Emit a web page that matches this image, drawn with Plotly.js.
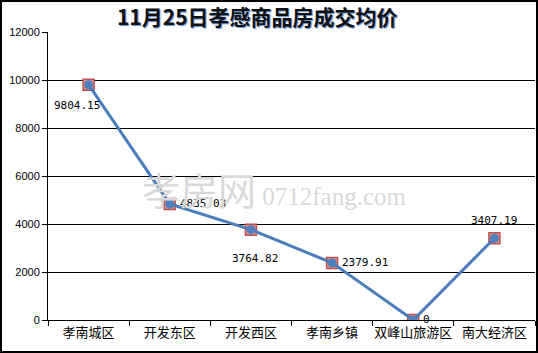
<!DOCTYPE html>
<html><head><meta charset="utf-8">
<script src="https://cdn.plot.ly/plotly-3.0.1.min.js"></script>
<style>
html,body{margin:0;padding:0;background:#fff;}
#wrap{width:534px;height:349px;border:2px solid #000;}
#chart{width:534px;height:349px;}
</style></head>
<body><div id="wrap"><div id="chart"></div></div>
<script>
const categories = ['孝南城区','开发东区','开发西区','孝南乡镇','双峰山旅游区','南大经济区'];
const values = [9804.15, 4835.03, 3764.82, 2379.91, 0, 3407.19];
const labels = ['9804.15','4835.03','3764.82','2379.91','0','3407.19'];
const yTicks = [0,2000,4000,6000,8000,10000,12000];

const labelShift = [[-12,-21],[33,0],[4,-29],[33,0],[13,1],[0,18]];

const traces = [
  {x: categories, y: values, type:'scatter', mode:'markers', hoverinfo:'skip',
   marker:{symbol:'square', size:11, color:'#d99694', line:{color:'#c0504d', width:1.5}}},
  {x: categories, y: values, type:'scatter', mode:'lines+markers',
   line:{color:'#4a7ebb', width:3},
   marker:{symbol:'circle', size:9, color:'#4f81bd'}}
];

const annotations = values.map((v,i)=>({
  x: categories[i], y: v, xref:'x', yref:'y', text: labels[i], showarrow:false,
  xshift: labelShift[i][0], yshift: labelShift[i][1],
  font:{family:'DejaVu Sans Mono, monospace', size:11, color:'#000'}
}));
annotations.push({
  xref:'paper', yref:'paper', x:0.465, y:0.455, showarrow:false,
  text:'<span style="font-size:38px;font-family:Noto Sans CJK SC">孝房网</span><span style="font-size:25px;font-family:Liberation Serif"> 0712fang.com</span>',
  font:{family:'Liberation Serif', color:'#d9d9d9'}
});

const layout = {
  width:534, height:349,
  margin:{l:46, r:1, t:30, b:31},
  paper_bgcolor:'#fff', plot_bgcolor:'#fff',
  showlegend:false,
  title:{text:'11月25日孝感商品房成交均价', x:0.478, xanchor:'center', y:0.975, yanchor:'top',
    font:{family:'Noto Sans CJK SC', size:21, color:'#111', weight:'bold', shadow:'1px 1px 1px #5b8fd0'}},
  xaxis:{type:'category', tickson:'boundaries', ticks:'outside', ticklen:5, tickcolor:'#000',
    showline:true, linecolor:'#000', linewidth:1, showgrid:false, zeroline:false,
    range:[-0.5,5.5], tickangle:0, automargin:false,
    tickfont:{family:'Noto Sans CJK SC', size:13, color:'#000'}},
  yaxis:{range:[0,12000], tickvals:yTicks, ticktext:yTicks.map(String), ticks:'outside', ticklen:5,
    tickcolor:'#000', showline:true, linecolor:'#000', linewidth:1, automargin:false,
    showgrid:true, gridcolor:'#000', gridwidth:1, zeroline:false,
    tickfont:{family:'Liberation Sans, Arial', size:11, color:'#000'}},
  annotations: annotations
};
Plotly.newPlot('chart', traces, layout, {staticPlot:true, displayModeBar:false});
</script></body></html>
